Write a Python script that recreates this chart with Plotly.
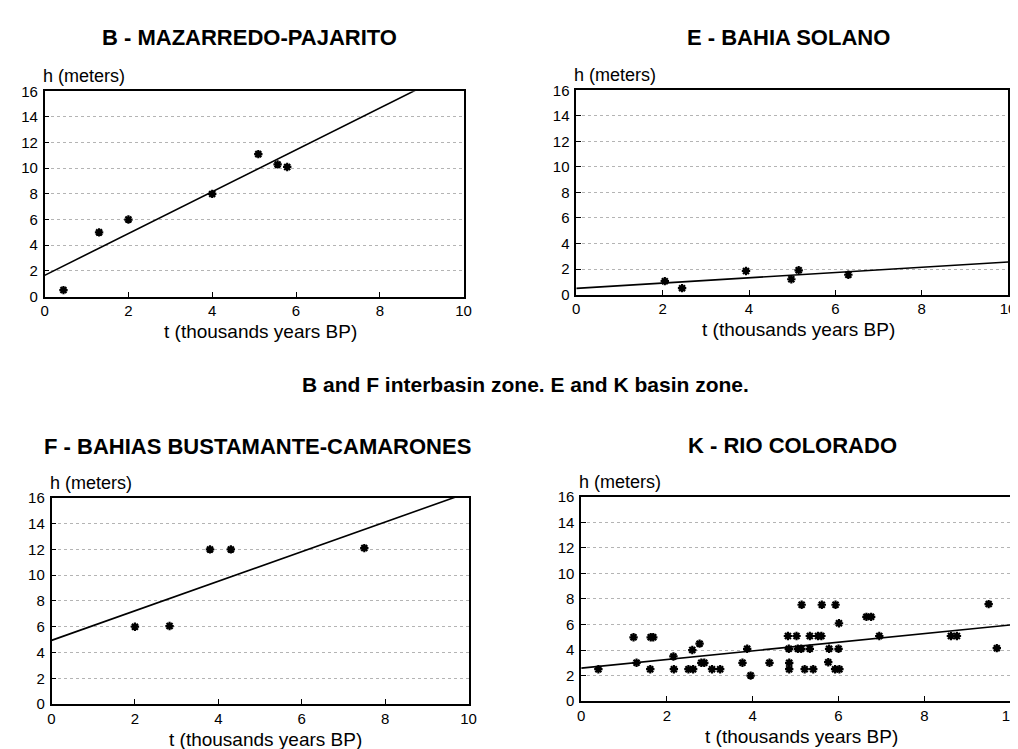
import numpy as np
import plotly.graph_objects as go

# ---- data (t in thousands of years BP, h in meters) ----
b_t = [0.45, 1.30, 2.00, 4.00, 5.10, 5.56, 5.79]
b_h = [0.50, 5.00, 6.00, 8.00, 11.10, 10.30, 10.10]

e_t = [2.05, 2.45, 3.93, 4.98, 5.15, 6.30]
e_h = [1.05, 0.50, 1.85, 1.20, 1.90, 1.55]

f_t = [2.00, 2.83, 3.80, 4.30, 7.50]
f_h = [6.00, 6.05, 12.00, 12.00, 12.10]

k_t = [0.40, 1.22, 1.29, 1.61, 1.62, 1.68, 2.15, 2.16, 2.50, 2.61,
       2.59, 2.76, 2.80, 2.87, 3.05, 3.24, 3.76, 3.87, 3.95, 4.39,
       4.82, 5.02, 4.84, 4.85, 4.85, 5.05, 5.13, 5.14, 5.21, 5.33,
       5.33, 5.41, 5.52, 5.60, 5.61, 5.76, 5.78, 5.93, 5.92, 6.02,
       6.00, 6.01, 6.65, 6.76, 6.95, 8.62, 8.76, 9.50, 9.69]
k_h = [2.5, 5.0, 3.0, 2.5, 5.0, 5.0, 3.5, 2.5, 2.5, 2.5,
       4.0, 4.5, 3.0, 3.0, 2.5, 2.5, 3.0, 4.1, 2.0, 3.0,
       5.1, 5.1, 4.1, 3.0, 2.5, 4.1, 4.1, 7.55, 2.5, 5.1,
       4.1, 2.5, 5.1, 5.1, 7.55, 3.05, 4.1, 7.55, 2.5, 2.5,
       4.1, 6.1, 6.6, 6.6, 5.1, 5.1, 5.1, 7.6, 4.15]

titles = ["B - MAZARREDO-PAJARITO", "E - BAHIA SOLANO",
          "F - BAHIAS BUSTAMANTE-CAMARONES", "K - RIO COLORADO"]
x_ticks = [0, 2, 4, 6, 8, 10]
y_ticks = [0, 2, 4, 6, 8, 10, 12, 14, 16]
note = "B and F interbasin zone. E and K basin zone."
x_label = "t (thousands years BP)"
y_label = "h (meters)"

W, H = 1018, 749
def px(x):
    return x / W
def py(y):
    return 1 - y / H

# plot-area boxes in pixels (left, right, top, bottom)
boxes = [(33, 457, 76, 286), (571, 1008, 75, 284),
         (40, 462, 492, 703), (576, 1010, 491, 700)]
title_pos = [(240, 21), (786, 21), (248, 439), (790, 438)]

series = [(b_t, b_h), (e_t, e_h), (f_t, f_h), (k_t, k_h)]

fig = go.Figure()
font_main = "Liberation Sans, Arial, sans-serif"

for i, ((t, h), (l, r, top, bot)) in enumerate(zip(series, boxes)):
    n = "" if i == 0 else str(i + 1)
    xa, ya = "x" + n, "y" + n
    # regression line fitted to the data
    slope, inter = np.polyfit(np.array(t), np.array(h), 1)
    xl = np.array([0.0, 10.0])
    fig.add_trace(go.Scatter(x=xl, y=inter + slope * xl, mode="lines",
                             line=dict(color="black", width=1.6),
                             xaxis=xa, yaxis=ya, showlegend=False,
                             hoverinfo="skip"))
    fig.add_trace(go.Scatter(x=t, y=h, mode="markers",
                             marker=dict(symbol="asterisk-open", size=7,
                                         color="black",
                                         line=dict(color="black", width=2.2)),
                             xaxis=xa, yaxis=ya, showlegend=False))
    fig.layout["xaxis" + n] = dict(
        domain=[px(l), px(r)], range=[0, 10], tickvals=x_ticks,
        ticks="inside", ticklen=5, tickcolor="black",
        showline=True, linecolor="black", linewidth=1.5, mirror=True,
        showgrid=False, zeroline=False, anchor=ya,
        tickfont=dict(family=font_main, size=15, color="black"))
    fig.layout["yaxis" + n] = dict(
        domain=[py(bot), py(top)], range=[0, 16], tickvals=y_ticks,
        ticks="inside", ticklen=5, tickcolor="black",
        showline=True, linecolor="black", linewidth=1.5, mirror=True,
        showgrid=True, gridcolor="#b4b4b4", gridwidth=1, griddash="dot",
        zeroline=False, anchor=xa, ticklabelstandoff=2,
        tickfont=dict(family=font_main, size=15, color="black"))
    # title
    tx, ty = title_pos[i]
    fig.add_annotation(x=px(tx), y=py(ty), xref="paper", yref="paper",
                       text="<b>" + titles[i] + "</b>", showarrow=False,
                       xanchor="center", yanchor="middle",
                       font=dict(family=font_main, size=22, color="black"))
    # y label above axis
    fig.add_annotation(x=px(l - 4), y=py(top - 3), xref="paper", yref="paper",
                       text=y_label, showarrow=False,
                       xanchor="left", yanchor="bottom",
                       font=dict(family=font_main, size=18, color="black"))
    # x label under axis
    fig.add_annotation(x=px((l + r) / 2 + 6), y=py(bot + 36), xref="paper",
                       yref="paper", text=x_label, showarrow=False,
                       xanchor="center", yanchor="middle",
                       font=dict(family=font_main, size=19, color="black"))

fig.add_annotation(x=px(520), y=py(376), xref="paper", yref="paper",
                   text="<b>" + note + "</b>", showarrow=False,
                   xanchor="center", yanchor="middle",
                   font=dict(family=font_main, size=21, color="black"))

fig.update_layout(width=W, height=H, margin=dict(l=0, r=0, t=0, b=0),
                  paper_bgcolor="white", plot_bgcolor="white",
                  showlegend=False)

fig.write_html("out.html")
